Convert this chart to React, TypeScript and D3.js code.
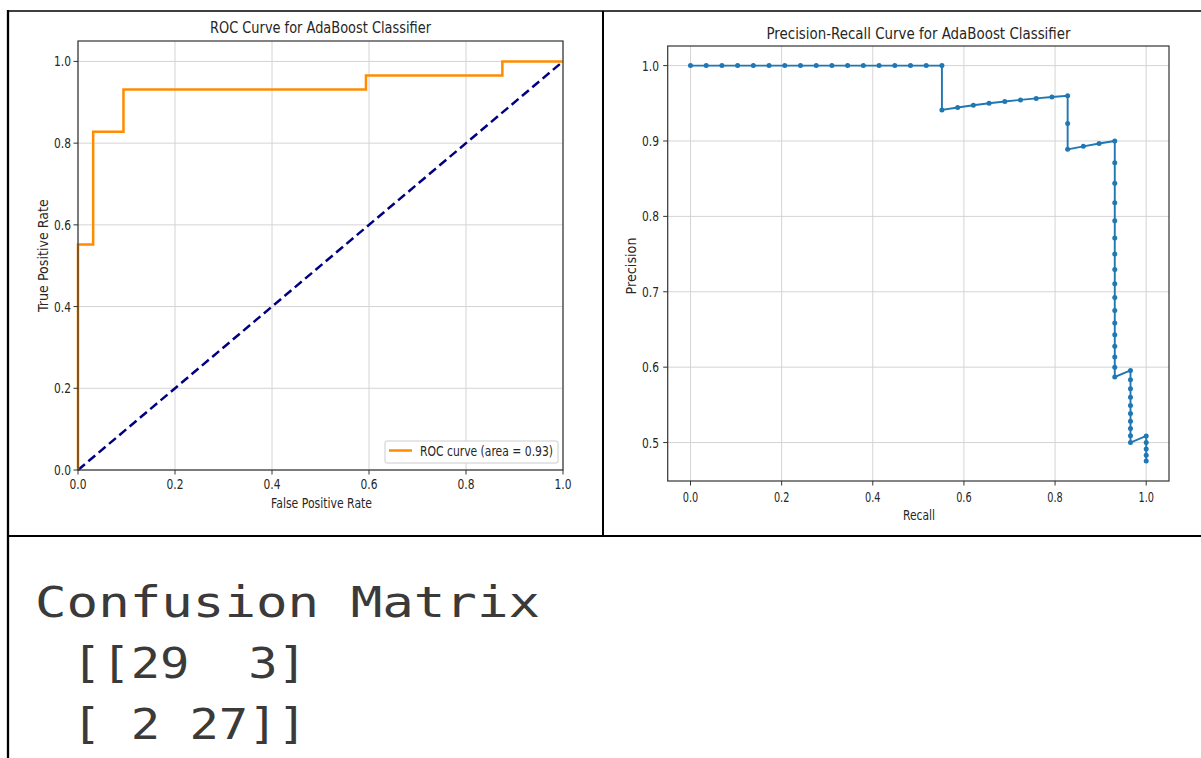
import React from "react";
import * as d3 from "d3";

// ROC curve (step points)
const rocFpr = [0, 0, 0.03125, 0.03125, 0.09375, 0.09375, 0.59375, 0.59375, 0.875, 0.875, 1];
const rocTpr = [0, 0.5517, 0.5517, 0.8276, 0.8276, 0.931, 0.931, 0.9655, 0.9655, 1, 1];
const rocTicks = [0, 0.2, 0.4, 0.6, 0.8, 1.0];
const rocTickLabels = ["0.0", "0.2", "0.4", "0.6", "0.8", "1.0"];

// Precision-Recall curve points
const prRecall = [
  0, 0.0345, 0.069, 0.1034, 0.1379, 0.1724, 0.2069, 0.2414, 0.2759, 0.3103, 0.3448, 0.3793, 0.4138, 0.4483, 0.4828, 0.5172, 0.5517,
  0.5517, 0.5862, 0.6207, 0.6552, 0.6897, 0.7241, 0.7586, 0.7931, 0.8276,
  0.8276, 0.8276, 0.8621, 0.8966, 0.931,
  0.931, 0.931, 0.931, 0.931, 0.931, 0.931, 0.931, 0.931, 0.931, 0.931, 0.931, 0.931, 0.931, 0.931, 0.931, 0.931,
  0.9655, 0.9655, 0.9655, 0.9655, 0.9655, 0.9655, 0.9655, 0.9655, 0.9655, 0.9655,
  1, 1, 1, 1, 1,
];
const prPrecision = [
  1, 1, 1, 1, 1, 1, 1, 1, 1, 1, 1, 1, 1, 1, 1, 1, 1,
  0.9412, 0.9444, 0.9474, 0.95, 0.9524, 0.9545, 0.9565, 0.9583, 0.96,
  0.9231, 0.8889, 0.8929, 0.8966, 0.9,
  0.871, 0.8438, 0.8182, 0.7941, 0.7714, 0.75, 0.7297, 0.7105, 0.6923, 0.675, 0.6585, 0.6429, 0.6279, 0.6136, 0.6, 0.587,
  0.5957, 0.5833, 0.5714, 0.56, 0.549, 0.5385, 0.5283, 0.5185, 0.5091, 0.5,
  0.5088, 0.5, 0.4915, 0.4833, 0.4754,
];
const prXTicks = [0, 0.2, 0.4, 0.6, 0.8, 1.0];
const prXTickLabels = ["0.0", "0.2", "0.4", "0.6", "0.8", "1.0"];
const prYTicks = [0.5, 0.6, 0.7, 0.8, 0.9, 1.0];
const prYTickLabels = ["0.5", "0.6", "0.7", "0.8", "0.9", "1.0"];

const confusionTitle = "Confusion Matrix";
const confusionRows = ["[[29  3]", "[ 2 27]]"];

const FONT = "'DejaVu Sans', sans-serif";
const MONO = "'DejaVu Sans Mono', monospace";
const TXT = "#262626";
const GRID = "#d4d4d4";

type TProps = {
  x: number; y: number; w: number; size: number; anchor?: string; rotate?: boolean; children: string; fill?: string; family?: string;
};
function T({ x, y, w, size, anchor = "middle", rotate = false, children, fill = TXT, family = FONT }: TProps) {
  return (
    <text
      x={rotate ? 0 : x}
      y={rotate ? 0 : y}
      transform={rotate ? `translate(${x},${y}) rotate(-90)` : undefined}
      textAnchor={anchor}
      fontSize={size}
      fontFamily={family}
      fill={fill}
      textLength={w}
      lengthAdjust="spacingAndGlyphs"
      style={{ whiteSpace: "pre" }}
    >
      {children}
    </text>
  );
}

function RocChart() {
  const x = d3.scaleLinear().domain([0, 1]).range([78, 563]);
  const y = d3.scaleLinear().domain([0, 1.05]).range([470, 41]);
  const pts = rocFpr.map((f, i) => [f, rocTpr[i]] as [number, number]);
  const line = d3.line<[number, number]>().x((d) => x(d[0])).y((d) => y(d[1]));
  const [x0, x1] = x.range();
  const [y0, y1] = y.range();
  return (
    <g>
      {rocTicks.map((t) => (
        <g key={"g" + t}>
          <line x1={x(t)} x2={x(t)} y1={y1} y2={y0} stroke={GRID} strokeWidth={1} />
          <line x1={x0} x2={x1} y1={y(t)} y2={y(t)} stroke={GRID} strokeWidth={1} />
        </g>
      ))}
      <path d={line([[0, 0], [1, 1]]) || ""} stroke="#000080" strokeWidth={2.5} strokeDasharray="9,4.5" fill="none" />
      <path d={line(pts) || ""} stroke="#ff8c00" strokeWidth={2.5} fill="none" />
      <rect x={x0} y={y1} width={x1 - x0} height={y0 - y1} fill="none" stroke="#333" strokeWidth={1.2} />
      {rocTicks.map((t, i) => (
        <g key={"t" + t}>
          <line x1={x(t)} x2={x(t)} y1={y0} y2={y0 + 4.5} stroke="#333" />
          <T x={x(t)} y={489} w={17} size={13.7}>{rocTickLabels[i]}</T>
          <line x1={x0 - 4.5} x2={x0} y1={y(t)} y2={y(t)} stroke="#333" />
          <T x={71} y={y(t) + 5} w={17} size={13.7} anchor="end">{rocTickLabels[i]}</T>
        </g>
      ))}
      <T x={320.5} y={33.4} w={221} size={16.5}>ROC Curve for AdaBoost Classifier</T>
      <T x={321.5} y={507.5} w={101} size={13.7}>False Positive Rate</T>
      <T x={47.5} y={255.6} w={113} size={13.7} rotate>True Positive Rate</T>
      <rect x={385} y={441} width={173} height={22} rx={2} fill="white" stroke="#cccccc" strokeWidth={1} />
      <line x1={389} x2={412} y1={450.5} y2={450.5} stroke="#ff8c00" strokeWidth={2.5} />
      <T x={420} y={456} w={133} size={13.7} anchor="start">ROC curve (area = 0.93)</T>
    </g>
  );
}

function PrChart() {
  const x = d3.scaleLinear().domain([-0.05, 1.05]).range([667.7, 1169]);
  const y = d3.scaleLinear().domain([0.449, 1.026]).range([481, 46]);
  const pts = prRecall.map((r, i) => [r, prPrecision[i]] as [number, number]);
  const line = d3.line<[number, number]>().x((d) => x(d[0])).y((d) => y(d[1]));
  const [x0, x1] = x.range();
  const [y0, y1] = y.range();
  return (
    <g>
      {prXTicks.map((t) => (
        <line key={"gx" + t} x1={x(t)} x2={x(t)} y1={y1} y2={y0} stroke={GRID} strokeWidth={1} />
      ))}
      {prYTicks.map((t) => (
        <line key={"gy" + t} x1={x0} x2={x1} y1={y(t)} y2={y(t)} stroke={GRID} strokeWidth={1} />
      ))}
      <path d={line(pts) || ""} stroke="#1f77b4" strokeWidth={1.9} fill="none" />
      {pts.map((p, i) => (
        <circle key={i} cx={x(p[0])} cy={y(p[1])} r={2.5} fill="#1f77b4" />
      ))}
      <rect x={x0} y={y1} width={x1 - x0} height={y0 - y1} fill="none" stroke="#333" strokeWidth={1.2} />
      {prXTicks.map((t, i) => (
        <g key={"tx" + t}>
          <line x1={x(t)} x2={x(t)} y1={y0} y2={y0 + 4.5} stroke="#333" />
          <T x={x(t)} y={502} w={15.5} size={13.7}>{prXTickLabels[i]}</T>
        </g>
      ))}
      {prYTicks.map((t, i) => (
        <g key={"ty" + t}>
          <line x1={x0 - 4.5} x2={x0} y1={y(t)} y2={y(t)} stroke="#333" />
          <T x={659} y={y(t) + 5} w={17} size={13.7} anchor="end">{prYTickLabels[i]}</T>
        </g>
      ))}
      <T x={918.5} y={38.6} w={304} size={16.2}>Precision-Recall Curve for AdaBoost Classifier</T>
      <T x={919} y={520} w={32} size={13.7}>Recall</T>
      <T x={636} y={266} w={57} size={13.7} rotate>Precision</T>
    </g>
  );
}

export default function App() {
  return (
    <svg
      width={1201}
      height={758}
      viewBox="0 0 1201 758"
      style={{ position: "absolute", left: 0, top: 0, background: "white" }}
    >
      <rect x={0} y={0} width={1201} height={758} fill="white" />
      <RocChart />
      <PrChart />
      {/* table borders */}
      <line x1={7} x2={1201} y1={11} y2={11} stroke="#000" strokeWidth={1.6} />
      <line x1={7} x2={1201} y1={536} y2={536} stroke="#000" strokeWidth={1.8} />
      <line x1={8} x2={8} y1={10} y2={758} stroke="#000" strokeWidth={2.3} />
      <line x1={603} x2={603} y1={11} y2={536} stroke="#000" strokeWidth={2} />
      <T x={35} y={617} w={505} size={42} anchor="start" family={MONO} fill="#3a3a3a">{confusionTitle}</T>
      <T x={72} y={678} w={235} size={42} anchor="start" family={MONO} fill="#3a3a3a">{confusionRows[0]}</T>
      <T x={72} y={739} w={235} size={42} anchor="start" family={MONO} fill="#3a3a3a">{confusionRows[1]}</T>
    </svg>
  );
}
